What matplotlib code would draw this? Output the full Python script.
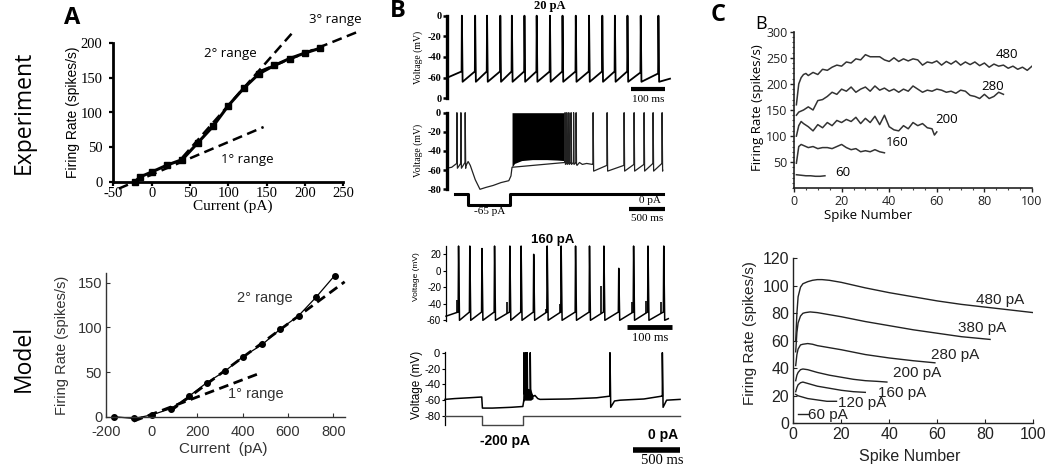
import matplotlib
matplotlib.use('Agg')
import matplotlib.pyplot as plt
from matplotlib.ticker import MultipleLocator

plt.rcParams['axes.unicode_minus'] = False

W, H = 1050, 470
fig = plt.figure(figsize=(W / 100, H / 100), dpi=100)

SERIF = ['Liberation Serif', 'DejaVu Serif']
SANS = ['Liberation Sans', 'DejaVu Sans']
NARROW = ['Liberation Sans Narrow', 'Liberation Sans', 'DejaVu Sans']
CAL = ['Open Sans', 'DejaVu Sans']

# ---------------- data ----------------
# A (experiment)
a_exp_current = [-22, -15, 0, 20, 40, 60, 80, 100, 120, 140, 160, 180, 200, 220]
a_exp_rate = [0, 7, 14, 24, 32, 56, 80, 110, 135, 156, 168, 178, 186, 193]
a_exp_r1_x = [-43, 146]
a_exp_r1_y = [-10, 79]
a_exp_r2_x = [40, 185]
a_exp_r2_y = [35, 217]
a_exp_r3_x = [142, 272]
a_exp_r3_y = [160, 218]
a_exp_xticks = [-50, 0, 50, 100, 150, 200, 250]
a_exp_yticks = [0, 50, 100, 150, 200]

# A (model)
a_mod_current = [-165, -78, 0, 84, 165, 242, 323, 401, 488, 566, 647, 725, 806]
a_mod_rate = [0, -2, 2, 9, 23, 38, 51, 67, 81, 98, 113, 134, 158]
a_mod_r1_x = [-80, 480]
a_mod_r1_y = [-5, 49]
a_mod_r2_x = [80, 850]
a_mod_r2_y = [6, 151]
a_mod_xticks = [-200, 0, 200, 400, 600, 800]
a_mod_yticks = [0, 50, 100, 150]

# B1: 20 pA experiment trace (ms, mV)
b1_spikes = [42, 81, 116, 155, 189, 226, 262, 301, 338, 377, 416, 455, 492, 529, 568, 620]
b1_thr = [-54, -54, -54, -54, -54, -54, -54, -54, -54, -54, -54, -54, -54, -54, -55, -56]
b1_ytick_labels = ['0', '-20', '-40', '-60', '0']

# B2: -65 pA step experiment
b2_pre_t = [0, 70, 140]
b2_pre_v = [-58, -57, -53]
b2_early_spikes = [140, 196, 256]
b2_early_thr = [-53, -53, -52]
b2_hyper_t = [266, 300, 330, 400, 466, 550, 650, 760, 870, 900, 915]
b2_hyper_v = [-56, -51, -55, -70, -80, -78, -76, -73, -71, -66, -57]
b2_burst_t = [915, 950, 1050, 1200, 1400, 1550, 1640]
b2_burst_low = [-57, -53, -50, -49, -49, -49.5, -50]
b2_tail_spikes = [1655, 1680, 1708, 1740, 1775, 1810]
b2_mid_t = [1825, 1860, 1900, 1960, 2040]
b2_mid_v = [-55, -52, -54, -53, -54]
b2_late_spikes = [2048, 2244, 2482, 2622, 2762, 2888, 3014]
b2_late_thr = [-54, -55, -55, -54, -54, -53, -53]
b2_cur_t = [116, 302, 302, 886, 886, 3024]
b2_cur_pa = [0, 0, -65, -65, 0, 0]

# B3: 160 pA model
b3_spikes = [27, 52, 79, 107, 141, 166, 194, 224, 255, 287, 318, 350, 383, 416, 448, 483]
b3_peaks = [30, 30, 27, 30, 30, 30, 20, 30, 30, 30, 30, 30, 3, 30, 30, 30]
b3_small_t = [24, 135, 222, 253, 344, 413, 444, 478]
b3_small_peak = [-35, -38, -46, -40, -18, -38, -37, -38]
b3_ytick = [20, 0, -20, -40, -60]

# B4: -200 pA model
b4_t = [0, 100, 250, 388, 395, 500, 700, 822, 830, 834, 834, 838, 852, 852, 856, 868, 868, 872,
        900, 900, 905, 935, 950, 980, 1003, 1300, 1600, 1735, 1742, 1742, 1750, 1790, 1850,
        2100, 2285, 2295, 2295, 2303, 2340, 2482]
b4_v = [-59, -58, -57, -56, -70, -70, -69, -68, -62, -58, 0, -52, -50, 0, -50, -49, 0, -52,
        -50, 0, -52, -55, -54, -58, -59, -58.5, -57, -55, -55, 0, -69, -61, -60,
        -58.5, -55, -55, 0, -69, -60, -59]
b4_burst_t = [826, 840, 870, 905, 930]
b4_burst_low = [-62, -60, -60, -60, -58]
b4_burst_high = [-56, -46, -45, -46, -55]
b4_cur_t = [0, 395, 395, 827, 827, 2482]
b4_cur_pa = [0, 0, -200, -200, 0, 0]

# C top: experiment adaptation
c_exp_480_x = [1, 2, 3, 4, 5, 6, 8, 10, 12, 14, 16, 18, 20, 22, 24, 26, 28, 30, 32, 34, 36, 38, 40,
               42, 44, 46, 48, 50, 52, 54, 56, 58, 60, 62, 64, 66, 68, 70, 72, 74, 76, 78, 80, 82,
               84, 86, 88, 90, 92, 94, 96, 98, 100]
c_exp_480_y = [160, 200, 212, 218, 220, 216, 222, 218, 228, 226, 232, 236, 234, 242, 240, 248, 246,
               256, 252, 252, 252, 246, 243, 250, 243, 248, 244, 248, 246, 236, 242, 240, 244, 236,
               243, 238, 244, 236, 242, 237, 242, 235, 240, 232, 238, 234, 236, 230, 234, 228, 232,
               226, 234]
c_exp_280_x = [1, 2, 3, 4, 6, 8, 10, 12, 14, 16, 18, 20, 22, 24, 26, 28, 30, 32, 34, 36, 38, 40, 42,
               44, 46, 48, 50, 52, 54, 56, 58, 60, 62, 64, 66, 68, 70, 72, 74, 76, 78, 80, 82, 84,
               86, 88]
c_exp_280_y = [140, 146, 148, 150, 156, 150, 168, 170, 176, 184, 180, 190, 186, 194, 184, 190, 194,
               186, 196, 188, 192, 186, 190, 184, 190, 186, 196, 190, 184, 188, 186, 190, 188, 184,
               186, 182, 188, 186, 178, 176, 172, 180, 172, 176, 184, 180]
c_exp_200_x = [1, 2, 3, 4, 6, 8, 10, 12, 14, 16, 18, 20, 22, 24, 26, 28, 30, 32, 34, 36, 38, 40,
               42, 44, 46, 48, 50, 52, 54, 56, 58, 59, 60]
c_exp_200_y = [100, 120, 128, 124, 118, 110, 122, 116, 126, 120, 130, 126, 132, 128, 136, 124, 134,
               126, 138, 122, 140, 118, 112, 110, 120, 114, 126, 120, 124, 116, 114, 102, 108]
c_exp_160_x = [1, 2, 3, 4, 6, 8, 10, 12, 14, 16, 18, 20, 22, 24, 26, 28, 30, 32, 34, 36, 38]
c_exp_160_y = [48, 80, 84, 82, 78, 80, 76, 78, 78, 76, 80, 84, 78, 74, 76, 70, 72, 70, 74, 70, 68]
c_exp_60_x = [1, 3, 5, 7, 9, 11, 13]
c_exp_60_y = [26, 25, 24, 24, 23, 23, 24]

# C bottom: model adaptation
c_mod_480_x = [1, 1.5, 2, 3, 4, 6, 8, 10, 12, 15, 20, 25, 30, 40, 50, 60, 70, 80, 90, 100]
c_mod_480_y = [60, 80, 92, 99, 101.5, 103, 104, 104.5, 104.5, 104, 102.5, 100.5, 98.5, 95, 92,
               89, 86.5, 84.5, 82.5, 80.5]
c_mod_380_x = [1, 1.5, 2, 3, 4, 5, 7, 10, 15, 20, 30, 40, 50, 60, 70, 82]
c_mod_380_y = [52, 66, 73, 78, 80, 80.5, 81, 80.5, 79, 77.5, 74, 71, 68, 65.5, 63, 61]
c_mod_280_x = [1, 1.5, 2, 3, 4, 6, 8, 10, 15, 20, 30, 40, 50, 59]
c_mod_280_y = [42, 50, 54, 57, 57.5, 58, 57.5, 56.5, 55, 53.5, 50, 47.5, 45.5, 44]
c_mod_200_x = [1, 1.5, 2, 3, 4, 6, 8, 10, 15, 20, 25, 30, 35, 39]
c_mod_200_y = [31, 35, 37, 39, 39.5, 39, 38, 37, 35, 33.5, 32, 31, 30.5, 30]
c_mod_160_x = [1, 1.5, 2, 3, 4, 6, 8, 10, 15, 20, 25, 30]
c_mod_160_y = [23, 26, 28, 29.5, 30, 29, 28, 27, 25.5, 24, 23, 22.5]
c_mod_120_x = [1, 2, 4, 6, 8, 10, 12, 14, 16, 18]
c_mod_120_y = [21, 20, 19, 18, 17.5, 17, 16.5, 16, 16, 16]
c_mod_60_x = [2, 6]
c_mod_60_y = [6.5, 6.5]


# ---------------- helpers ----------------
def mkax(xref, yref, xlim, ylim):
    xd0, xp0, xd1, xp1 = xref
    bx = (xp1 - xp0) / (xd1 - xd0)
    L = xp0 + (xlim[0] - xd0) * bx
    R = xp0 + (xlim[1] - xd0) * bx
    yd0, yp0, yd1, yp1 = yref
    by = (yp1 - yp0) / (yd1 - yd0)
    B = yp0 + (ylim[0] - yd0) * by
    T = yp0 + (ylim[1] - yd0) * by
    ax = fig.add_axes([L / W, 1 - B / H, (R - L) / W, (B - T) / H])
    ax.set_xlim(xlim)
    ax.set_ylim(ylim)
    ax.patch.set_alpha(0)
    return ax


def ftext(x, y, s, **kw):
    kw.setdefault('ha', 'center')
    kw.setdefault('va', 'center')
    fig.text(x / W, 1 - y / H, s, **kw)


def train(t0, v0, spikes, thr, peaks, v_ahp, w, t_end, v_end):
    t, v = [t0], [v0]
    for s, th, p in zip(spikes, thr, peaks):
        t += [s, s + w * 0.3, s + w]
        v += [th, p, v_ahp]
    t.append(t_end)
    v.append(v_end)
    return t, v


def only_left(ax):
    for s in ['top', 'right', 'bottom']:
        ax.spines[s].set_visible(False)
    ax.set_xticks([])


# ---------------- panel A top ----------------
ax = mkax((0, 151.7, 250, 343.3), (0, 181.7, 200, 43.3), (-50, 250), (0, 200))
ax.plot(a_exp_current, a_exp_rate, '-', color='k', lw=2.2, marker='s', ms=4.5, clip_on=False)
for xs, ys in [(a_exp_r1_x, a_exp_r1_y), (a_exp_r2_x, a_exp_r2_y), (a_exp_r3_x, a_exp_r3_y)]:
    ax.plot(xs, ys, color='k', lw=1.8, dashes=(4, 2.2), clip_on=False)
for s in ['top', 'right']:
    ax.spines[s].set_visible(False)
for s in ['left', 'bottom']:
    ax.spines[s].set_linewidth(2)
ax.set_xticks(a_exp_xticks)
ax.set_yticks(a_exp_yticks)
ax.tick_params(length=3, width=1.6, labelsize=10.5)
ax.tick_params(axis='x', pad=0.5)
ax.tick_params(axis='y', pad=5)
for lab in ax.get_xticklabels() + ax.get_yticklabels():
    lab.set_family(SERIF)
ftext(233, 206, 'Current (pA)', family=SERIF, fontsize=11)
ftext(73, 112, 'Firing Rate (spikes/s)', family=NARROW, fontsize=10, rotation=90)
ftext(230, 53, '2° range', family=CAL, fontsize=9.5)
ftext(247, 160, '1° range', family=CAL, fontsize=9.5)
ftext(335, 20, '3° range', family=CAL, fontsize=9.5)
ftext(72, 18, 'A', family=CAL, fontsize=17, fontweight='bold')
ftext(24, 112, 'Experiment', family=CAL, fontsize=16.5, rotation=90)
ftext(24, 358, 'Model', family=CAL, fontsize=16.5, rotation=90)

# ---------------- panel A bottom ----------------
ax = mkax((0, 151.7, 800, 333.3), (0, 416.7, 150, 282.7), (-200, 850), (0, 161))
ax.plot(a_mod_current, a_mod_rate, '-', color='k', lw=0.9, marker='o', ms=4, clip_on=False)
for xs, ys in [(a_mod_r1_x, a_mod_r1_y), (a_mod_r2_x, a_mod_r2_y)]:
    ax.plot(xs, ys, color='k', lw=2.0, dashes=(3.5, 2), clip_on=False)
for s in ['top', 'right']:
    ax.spines[s].set_visible(False)
for s in ['left', 'bottom']:
    ax.spines[s].set_linewidth(1.0)
    ax.spines[s].set_color('#333333')
ax.set_xticks(a_mod_xticks)
ax.set_yticks(a_mod_yticks)
ax.tick_params(direction='in', length=3, width=0.8, labelsize=10.5, colors='#333333')
ax.tick_params(axis='x', pad=6)
ax.tick_params(axis='y', pad=3)
for lab in ax.get_xticklabels() + ax.get_yticklabels():
    lab.set_family(SANS)
ftext(223, 449, 'Current  (pA)', family=SANS, fontsize=11, color='#333333')
ftext(62, 345, 'Firing Rate (spikes/s)', family=SANS, fontsize=10.5, rotation=90, color='#333333')
ftext(265, 298, '2° range', family=SANS, fontsize=10.5, color='#333333')
ftext(256, 394, '1° range', family=SANS, fontsize=10.5, color='#333333')

# ---------------- panel B1 ----------------
ax = mkax((0, 447.3, 100, 481.3), (0, 15.7, -80, 98.3), (0, 662), (-80, 0))
t, v = train(0, -60, b1_spikes, b1_thr, [0] * len(b1_spikes), -64, 3, 655, -61)
ax.plot(t, v, color='k', lw=1.3, clip_on=False)
ax.plot([540, 640], [-71, -71], color='k', lw=3, clip_on=False, solid_capstyle='butt')
only_left(ax)
ax.spines['left'].set_linewidth(2.4)
ax.set_yticks([0, -20, -40, -60, -80])
ax.set_yticklabels(b1_ytick_labels)
ax.tick_params(length=3, width=1.8, pad=1, labelsize=7.5)
for lab in ax.get_yticklabels():
    lab.set_family(SERIF)
    lab.set_fontweight('bold')
ftext(418, 57, 'Voltage (mV)', family=SERIF, fontsize=7, rotation=90)
ftext(550, 6, '20 pA', family=SERIF, fontsize=9, fontweight='bold')
ftext(648, 99, '100 ms', family=SERIF, fontsize=8)
ftext(398, 11, 'B', family=CAL, fontsize=17, fontweight='bold')

# ---------------- panel B2 ----------------
xref_b2 = (0, 446.7, 500, 482.4)
ax = mkax(xref_b2, (0, 112.7, -80, 189.3), (0, 3150), (-80, 0))
t1, v1 = train(b2_pre_t[0], b2_pre_v[0], b2_early_spikes, b2_early_thr, [0, 0, 0], -58, 10,
               b2_hyper_t[0], b2_hyper_v[0])
tt = b2_pre_t[:-1] + t1[1:] + b2_hyper_t[1:]
vv = b2_pre_v[:-1] + v1[1:] + b2_hyper_v[1:]
t2, v2 = train(b2_hyper_t[-1], b2_hyper_v[-1], b2_tail_spikes, [-52] * len(b2_tail_spikes),
               [0] * len(b2_tail_spikes), -54, 8, b2_mid_t[0], b2_mid_v[0])
tt += t2[1:] + b2_mid_t[1:]
vv += v2[1:] + b2_mid_v[1:]
t3, v3 = train(b2_mid_t[-1], b2_mid_v[-1], b2_late_spikes, b2_late_thr, [0] * len(b2_late_spikes),
               -61, 10, 3024, -60)
tt += t3[1:]
vv += v3[1:]
ax.plot(tt, vv, color='#222222', lw=0.9, clip_on=False)
ax.fill_between(b2_burst_t, b2_burst_low, [0] * len(b2_burst_t), color='k', lw=0)
ax.plot([2557, 3057], [-100.6, -100.6], color='k', lw=3, clip_on=False, solid_capstyle='butt')
only_left(ax)
ax.spines['left'].set_linewidth(2.4)
ax.set_yticks([0, -20, -40, -60, -80])
ax.tick_params(length=3, width=1.8, pad=1, labelsize=7.5)
for lab in ax.get_yticklabels():
    lab.set_family(SERIF)
    lab.set_fontweight('bold')
axc = mkax(xref_b2, (0, 194, -65, 205), (0, 3150), (-70, 2))
axc.plot(b2_cur_t, b2_cur_pa, color='k', lw=2.2, clip_on=False)
axc.axis('off')
ftext(418, 150, 'Voltage (mV)', family=SERIF, fontsize=7, rotation=90)
ftext(490, 212, '-65 pA', family=SERIF, fontsize=8)
ftext(650, 200.5, '0 pA', family=SERIF, fontsize=8)
ftext(647, 219, '500 ms', family=SERIF, fontsize=8)

# ---------------- panel B3 ----------------
ax = mkax((0, 446, 100, 491), (20, 254.3, -60, 320.3), (0, 500), (-60.5, 30))
t, v = train(0, -55, b3_spikes, [-50] * len(b3_spikes), b3_peaks, -60, 3, 494, -58)
ax.plot(t, v, color='k', lw=1.1, clip_on=False)
ax.vlines(b3_small_t, -51, b3_small_peak, color='k', lw=1.2)
ax.plot([402, 502], [-68.1, -68.1], color='k', lw=3.5, clip_on=False, solid_capstyle='butt')
only_left(ax)
ax.spines['left'].set_linewidth(0.9)
ax.set_yticks(b3_ytick)
ax.tick_params(length=2.5, width=0.8, pad=1, labelsize=7)
for lab in ax.get_yticklabels():
    lab.set_family(SANS)
ftext(417, 277, 'Voltage (mV)', family=SANS, fontsize=6, rotation=90)
ftext(553, 240, '160 pA', family=SANS, fontsize=9.5, fontweight='bold')
ftext(650, 338, '100 ms', family=SERIF, fontsize=9)

# ---------------- panel B4 ----------------
xref_b4 = (0, 445, 500, 492.35)
ax = mkax(xref_b4, (0, 352.7, -80, 416), (0, 2482), (-91.4, 0.5))
ax.plot(b4_t, b4_v, color='k', lw=1.1, clip_on=False)
ax.fill_between(b4_burst_t, b4_burst_low, b4_burst_high, color='k', lw=0)
ax.plot([1982, 2482], [-123, -123], color='k', lw=4, clip_on=False, solid_capstyle='butt')
only_left(ax)
ax.spines['left'].set_linewidth(0.9)
ax.set_yticks([0, -20, -40, -60, -80])
ax.tick_params(length=2.5, width=0.8, pad=1, labelsize=8)
for lab in ax.get_yticklabels():
    lab.set_family(SANS)
axc = mkax(xref_b4, (0, 416, -200, 425), (0, 2482), (-210, 5))
axc.plot(b4_cur_t, b4_cur_pa, color='#444444', lw=1.0, clip_on=False)
axc.axis('off')
ftext(417, 385, 'Voltage (mV)', family=SANS, fontsize=8.5, rotation=90)
ftext(505, 441, '-200 pA', family=SANS, fontsize=10, fontweight='bold')
ftext(663, 435, '0 pA', family=SANS, fontsize=10, fontweight='bold')
ftext(662, 461, '500 ms', family=SERIF, fontsize=10.5)

# ---------------- panel C top ----------------
ax = mkax((0, 794, 100, 1032), (0, 188.3, 300, 31.7), (0, 100), (0, 300))
for xs, ys in [(c_exp_480_x, c_exp_480_y), (c_exp_280_x, c_exp_280_y), (c_exp_200_x, c_exp_200_y),
               (c_exp_160_x, c_exp_160_y), (c_exp_60_x, c_exp_60_y)]:
    ax.plot(xs, ys, color='#333333', lw=1.1)
for s in ['top', 'right']:
    ax.spines[s].set_visible(False)
for s in ['left', 'bottom']:
    ax.spines[s].set_linewidth(1.2)
    ax.spines[s].set_color('#222222')
ax.set_xticks([0, 20, 40, 60, 80, 100])
ax.set_yticks([50, 100, 150, 200, 250, 300])
ax.xaxis.set_minor_locator(MultipleLocator(5))
ax.yaxis.set_minor_locator(MultipleLocator(10))
ax.tick_params(which='major', length=3, width=1, pad=1.5, labelsize=9, colors='#222222')
ax.tick_params(which='minor', length=1.5, width=0.8, colors='#444444')
for lab in ax.get_xticklabels() + ax.get_yticklabels():
    lab.set_family(CAL)
ftext(868, 216, 'Spike Number', family=CAL, fontsize=9.5)
ftext(758, 108, 'Firing Rate (spikes/s)', family=CAL, fontsize=9.5, rotation=90)
ftext(1007, 54, '480', family=CAL, fontsize=9.5)
ftext(993, 87, '280', family=CAL, fontsize=9.5)
ftext(947, 120, '200', family=CAL, fontsize=9.5)
ftext(897, 143, '160', family=CAL, fontsize=9.5)
ftext(843, 173, '60', family=CAL, fontsize=9.5)
ftext(718, 15, 'C', family=CAL, fontsize=17, fontweight='bold')
ftext(761, 24, 'B', family=CAL, fontsize=13)

# ---------------- panel C bottom ----------------
ax = mkax((0, 793.3, 100, 1033.3), (0, 423.3, 120, 258.3), (0, 100), (0, 120))
for xs, ys in [(c_mod_480_x, c_mod_480_y), (c_mod_380_x, c_mod_380_y), (c_mod_280_x, c_mod_280_y),
               (c_mod_200_x, c_mod_200_y), (c_mod_160_x, c_mod_160_y), (c_mod_120_x, c_mod_120_y),
               (c_mod_60_x, c_mod_60_y)]:
    ax.plot(xs, ys, color='#222222', lw=1.0)
for s in ['top', 'right']:
    ax.spines[s].set_visible(False)
for s in ['left', 'bottom']:
    ax.spines[s].set_linewidth(1.0)
    ax.spines[s].set_color('#222222')
ax.set_xticks([0, 20, 40, 60, 80, 100])
ax.set_yticks([0, 20, 40, 60, 80, 100, 120])
ax.tick_params(direction='in', length=3, width=0.8, pad=3, labelsize=11.5, colors='#222222')
for lab in ax.get_xticklabels() + ax.get_yticklabels():
    lab.set_family(SANS)
ftext(910, 457, 'Spike Number', family=SANS, fontsize=11.5, color='#222222')
ftext(750, 333, 'Firing Rate (spikes/s)', family=SANS, fontsize=11, rotation=90, color='#222222')
for lab, x, y in [('480 pA', 1000, 300), ('380 pA', 982, 328), ('280 pA', 955, 355),
                  ('200 pA', 917, 373), ('160 pA', 902, 393), ('120 pA', 862, 403),
                  ('60 pA', 828, 415)]:
    ftext(x, y, lab, family=SANS, fontsize=11, color='#222222')

fig.savefig('out.png', dpi=100)
